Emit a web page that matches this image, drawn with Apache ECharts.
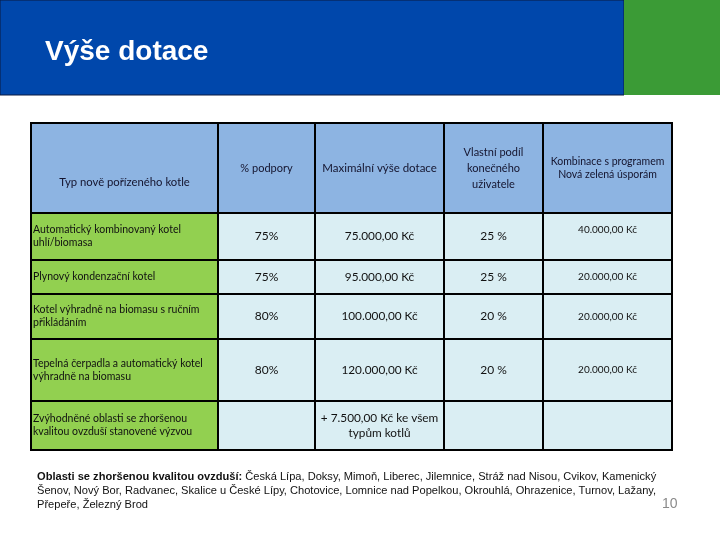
<!DOCTYPE html>
<html>
<head>
<meta charset="utf-8">
<script src="https://cdn.jsdelivr.net/npm/echarts@6/dist/echarts.min.js"></script>
<style>html,body{margin:0;padding:0;background:#fff}#c{width:720px;height:540px}</style>
</head>
<body>
<div id="c"></div>
<script>
// ---- data ----
const titleText = 'Výše dotace';
const columns = ['Typ nově pořízeného kotle', '% podpory', 'Maximální výše dotace', 'Vlastní podíl\nkonečného\nuživatele', 'Kombinace s programem\nNová zelená úsporám'];
const boilerTypes = ['Automatický kombinovaný kotel\nuhlí/biomasa', 'Plynový kondenzační kotel', 'Kotel výhradně na biomasu s ručním\npřikládáním', 'Tepelná čerpadla a automatický kotel\nvýhradně na biomasu', 'Zvýhodněné oblasti se zhoršenou\nkvalitou ovzduší stanovené výzvou'];
const supportPct = ['75%', '75%', '80%', '80%', ''];
const maxSubsidy = ['75.000,00 Kč', '95.000,00 Kč', '100.000,00 Kč', '120.000,00 Kč', '+ 7.500,00 Kč ke všem\ntypům kotlů'];
const ownShare = ['25 %', '25 %', '20 %', '20 %', ''];
const nzuCombo = ['40.000,00 Kč', '20.000,00 Kč', '20.000,00 Kč', '20.000,00 Kč', ''];
const footBold = 'Oblasti se zhoršenou kvalitou ovzduší:';
const footLines = [
  ' Česká Lípa, Doksy, Mimoň, Liberec, Jilemnice, Stráž nad Nisou, Cvikov, Kamenický',
  'Šenov, Nový Bor, Radvanec, Skalice u České Lípy, Chotovice, Lomnice nad Popelkou, Okrouhlá, Ohrazenice, Turnov, Lažany,',
  'Přepeře, Železný Brod'
];
const pageNumber = '10';

// ---- layout (sizes in px units of the hidden axes) ----
const colWidths = [187, 97, 129, 99, 129];
const rowHeights = [90, 47, 34, 45, 62, 49];
const tableLeft = 31, tableTop = 123;
const headerFontSizes = [11.3, 11, 11.5, 11, 10.5];
const bodyFontSizes = [10.5, 12, 11.8, 12, 10];

const bodyCols = [boilerTypes, supportPct, maxSubsidy, ownShare, nzuCombo];
const colEdges = [0]; colWidths.forEach(w => colEdges.push(colEdges[colEdges.length - 1] + w));
const rowEdges = [0]; rowHeights.forEach(h => rowEdges.push(rowEdges[rowEdges.length - 1] + h));
const totalW = colEdges[colEdges.length - 1];
const totalH = rowEdges[rowEdges.length - 1];

const cells = [];
for (let r = 0; r < rowHeights.length; r++) {
  for (let c = 0; c < colWidths.length; c++) {
    const text = r === 0 ? columns[c] : bodyCols[c][r - 1];
    cells.push([colEdges[c], rowEdges[r], colEdges[c + 1], rowEdges[r + 1], text, c, r]);
  }
}
// key: column,row
const vOffsets = { '0,0': 14, '4,1': -7 };

const chart = echarts.init(document.getElementById('c'), null, { renderer: 'canvas' });
const tableFont = 'Lato, "Open Sans", sans-serif';

chart.setOption({
  animation: false,
  backgroundColor: '#ffffff',
  title: {
    text: titleText, left: 40, top: 33,
    textStyle: { color: '#ffffff', fontSize: 28, fontWeight: 'bold', fontFamily: '"Liberation Sans", Arial, sans-serif' }
  },
  grid: { left: tableLeft, top: tableTop, width: totalW, height: totalH },
  xAxis: { type: 'value', min: 0, max: totalW, show: false },
  yAxis: { type: 'value', min: 0, max: totalH, inverse: true, show: false },
  graphic: [
    { type: 'rect', z: -10, shape: { x: 0, y: 0, width: 624, height: 95 }, style: { fill: '#0047AB', stroke: '#0a1a40', lineWidth: 1 } },
    { type: 'rect', z: -10, shape: { x: 624, y: 0, width: 96, height: 95 }, style: { fill: '#3B9B36' } },
    {
      type: 'text', left: 37, top: 470,
      style: {
        text: '{b|' + footBold + '}' + footLines[0] + '\n' + footLines[1] + '\n' + footLines[2],
        font: '11.1px "Liberation Sans", Arial, sans-serif', fill: '#111', lineHeight: 14,
        rich: { b: { fontWeight: 'bold', fontSize: 11.1, fontFamily: '"Liberation Sans", Arial, sans-serif', fill: '#111', lineHeight: 14 } }
      }
    },
    { type: 'text', left: 662, top: 497, style: { text: pageNumber, font: '14px "Liberation Sans", Arial, sans-serif', fill: '#8a8a8a' } }
  ],
  series: [{
    type: 'custom',
    coordinateSystem: 'cartesian2d',
    encode: { x: [0, 2], y: [1, 3] },
    data: cells,
    renderItem: function (params, api) {
      const p0 = api.coord([api.value(0), api.value(1)]);
      const p1 = api.coord([api.value(2), api.value(3)]);
      const c = api.value(5), r = api.value(6);
      const text = cells[params.dataIndex][4];
      const w = p1[0] - p0[0], h = p1[1] - p0[1];
      const fill = r === 0 ? '#8DB4E2' : (c === 0 ? '#92D050' : '#DAEEF3');
      const off = vOffsets[c + ',' + r] || 0;
      const isFirst = c === 0;
      const fs = r === 0 ? headerFontSizes[c] : bodyFontSizes[c];
      return {
        type: 'group',
        children: [
          { type: 'rect', shape: { x: p0[0], y: p0[1], width: w, height: h }, style: { fill: fill, stroke: '#000', lineWidth: 2 } },
          {
            type: 'text', z2: 10,
            style: {
              text: text,
              x: (isFirst && r > 0) ? p0[0] + 2 : p0[0] + w / 2,
              y: p0[1] + h / 2 + off,
              align: (isFirst && r > 0) ? 'left' : 'center',
              verticalAlign: 'middle',
              font: fs + 'px ' + tableFont,
              fill: r === 0 ? '#14142e' : '#111111',
              lineHeight: (r === 0 && c === 3) ? 16 : (r === 5 && c === 2 ? 15 : 13)
            }
          }
        ]
      };
    }
  }]
});
</script>
</body>
</html>
